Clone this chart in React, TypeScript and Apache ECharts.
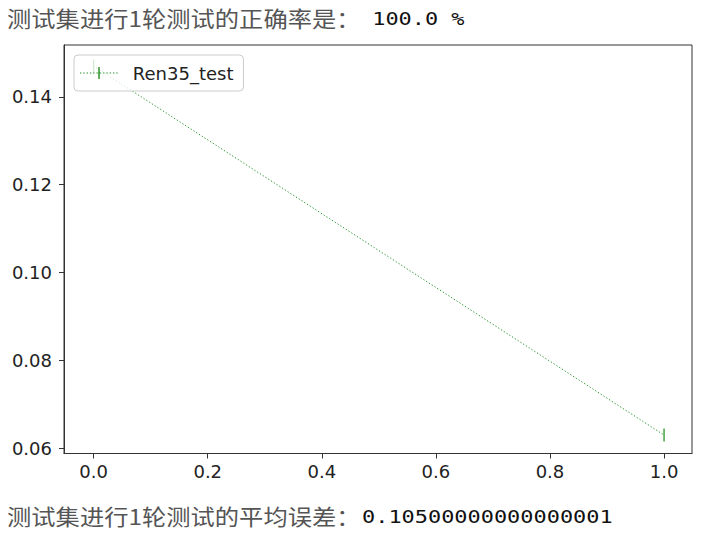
import React, { useEffect, useRef } from "react";
import * as echarts from "echarts";

// Test-set results for one evaluation round
const epochs = [0, 1];
const testLoss = [0.147, 0.063];
const seriesName = "Ren35_test";

const xTicks = [0, 0.2, 0.4, 0.6, 0.8, 1.0];
const yTicks = [0.06, 0.08, 0.1, 0.12, 0.14];

const accuracyLabel = "测试集进行1轮测试的正确率是：";
const accuracyValue = " 100.0 %";
const meanLossLabel = "测试集进行1轮测试的平均误差：";
const meanLossValue = "0.10500000000000001";

const LINE_COLOR = "#2a962a";
const MARKER_COLOR = "#1a8c1a";

// thin vertical bar marker
const VBAR = "path://M-0.6,-6.5 L0.6,-6.5 L0.6,6.5 L-0.6,6.5 Z";

// legend glyph: dotted segment with the bar marker in its middle (38 x 12 box)
function legendGlyph(): string {
  let d = "";
  for (let x = 0; x < 37; x += 3.3) {
    d += `M${x.toFixed(2)},5.5 h1.3 v1 h-1.3 Z `;
  }
  d += "M18.3,0 h1.4 v12 h-1.4 Z";
  return "path://" + d;
}

const tickFont = {
  fontFamily: "DejaVu Sans",
  fontSize: 18,
  color: "#222",
};

export default function App() {
  const ref = useRef<HTMLDivElement>(null);

  useEffect(() => {
    if (!ref.current) return;
    const chart = echarts.init(ref.current, undefined, { renderer: "svg" });
    chart.setOption({
      animation: false,
      backgroundColor: "#fff",
      grid: {
        left: 64,
        right: 12,
        top: 45,
        bottom: 83.5,
        show: true,
        borderColor: "#333",
        borderWidth: 1,
      },
      xAxis: {
        type: "value",
        min: -0.052,
        max: 1.049,
        axisLine: { show: true, onZero: false, lineStyle: { color: "#333", width: 1 } },
        axisTick: {
          show: true,
          length: 5,
          customValues: xTicks,
          lineStyle: { color: "#333" },
        },
        axisLabel: {
          ...tickFont,
          margin: 9,
          customValues: xTicks,
          formatter: (v: number) => v.toFixed(1),
        },
        splitLine: { show: false },
      },
      yAxis: {
        type: "value",
        min: 0.0588,
        max: 0.1518,
        axisLine: { show: true, onZero: false, lineStyle: { color: "#333", width: 1 } },
        axisTick: {
          show: true,
          length: 5,
          customValues: yTicks,
          lineStyle: { color: "#333" },
        },
        axisLabel: {
          ...tickFont,
          margin: 12,
          customValues: yTicks,
          formatter: (v: number) => v.toFixed(2),
        },
        splitLine: { show: false },
      },
      legend: {
        left: 74,
        top: 55,
        orient: "vertical",
        padding: [9, 10, 9, 6],
        itemWidth: 38,
        itemHeight: 12,
        backgroundColor: "rgba(255,255,255,0.8)",
        borderColor: "#cccccc",
        borderWidth: 1,
        borderRadius: 4,
        itemStyle: { color: MARKER_COLOR },
        textStyle: {
          fontFamily: "DejaVu Sans",
          fontSize: 18,
          color: "#222",
          padding: [0, 0, 0, 10],
        },
        data: [{ name: seriesName, icon: legendGlyph() }],
      },
      series: [
        {
          name: seriesName,
          type: "line",
          data: epochs.map((x, i) => [x, testLoss[i]]),
          symbol: VBAR,
          symbolSize: 13,
          symbolKeepAspect: true,
          itemStyle: { color: MARKER_COLOR },
          lineStyle: { color: LINE_COLOR, width: 1, type: [1.3, 2] },
          z: 2,
        },
      ],
      graphic: [
        {
          type: "text",
          x: 7,
          y: 18,
          scaleX: 1.13,
          style: {
            text: accuracyLabel,
            font: '21.5px "Noto Sans CJK SC"',
            fill: "#555",
            textVerticalAlign: "middle",
          },
        },
        {
          type: "text",
          x: 359,
          y: 19,
          scaleX: 1.218,
          style: {
            text: accuracyValue,
            font: '18px "DejaVu Sans Mono"',
            fill: "#111",
            textVerticalAlign: "middle",
          },
        },
        {
          type: "text",
          x: 7,
          y: 516,
          scaleX: 1.13,
          style: {
            text: meanLossLabel,
            font: '21.5px "Noto Sans CJK SC"',
            fill: "#555",
            textVerticalAlign: "middle",
          },
        },
        {
          type: "text",
          x: 362,
          y: 517,
          scaleX: 1.218,
          style: {
            text: meanLossValue,
            font: '18px "DejaVu Sans Mono"',
            fill: "#111",
            textVerticalAlign: "middle",
          },
        },
      ],
    });
    return () => chart.dispose();
  }, []);

  return (
    <div
      ref={ref}
      style={{
        position: "absolute",
        left: 0,
        top: 0,
        width: 704,
        height: 537,
        background: "#fff",
      }}
    />
  );
}
